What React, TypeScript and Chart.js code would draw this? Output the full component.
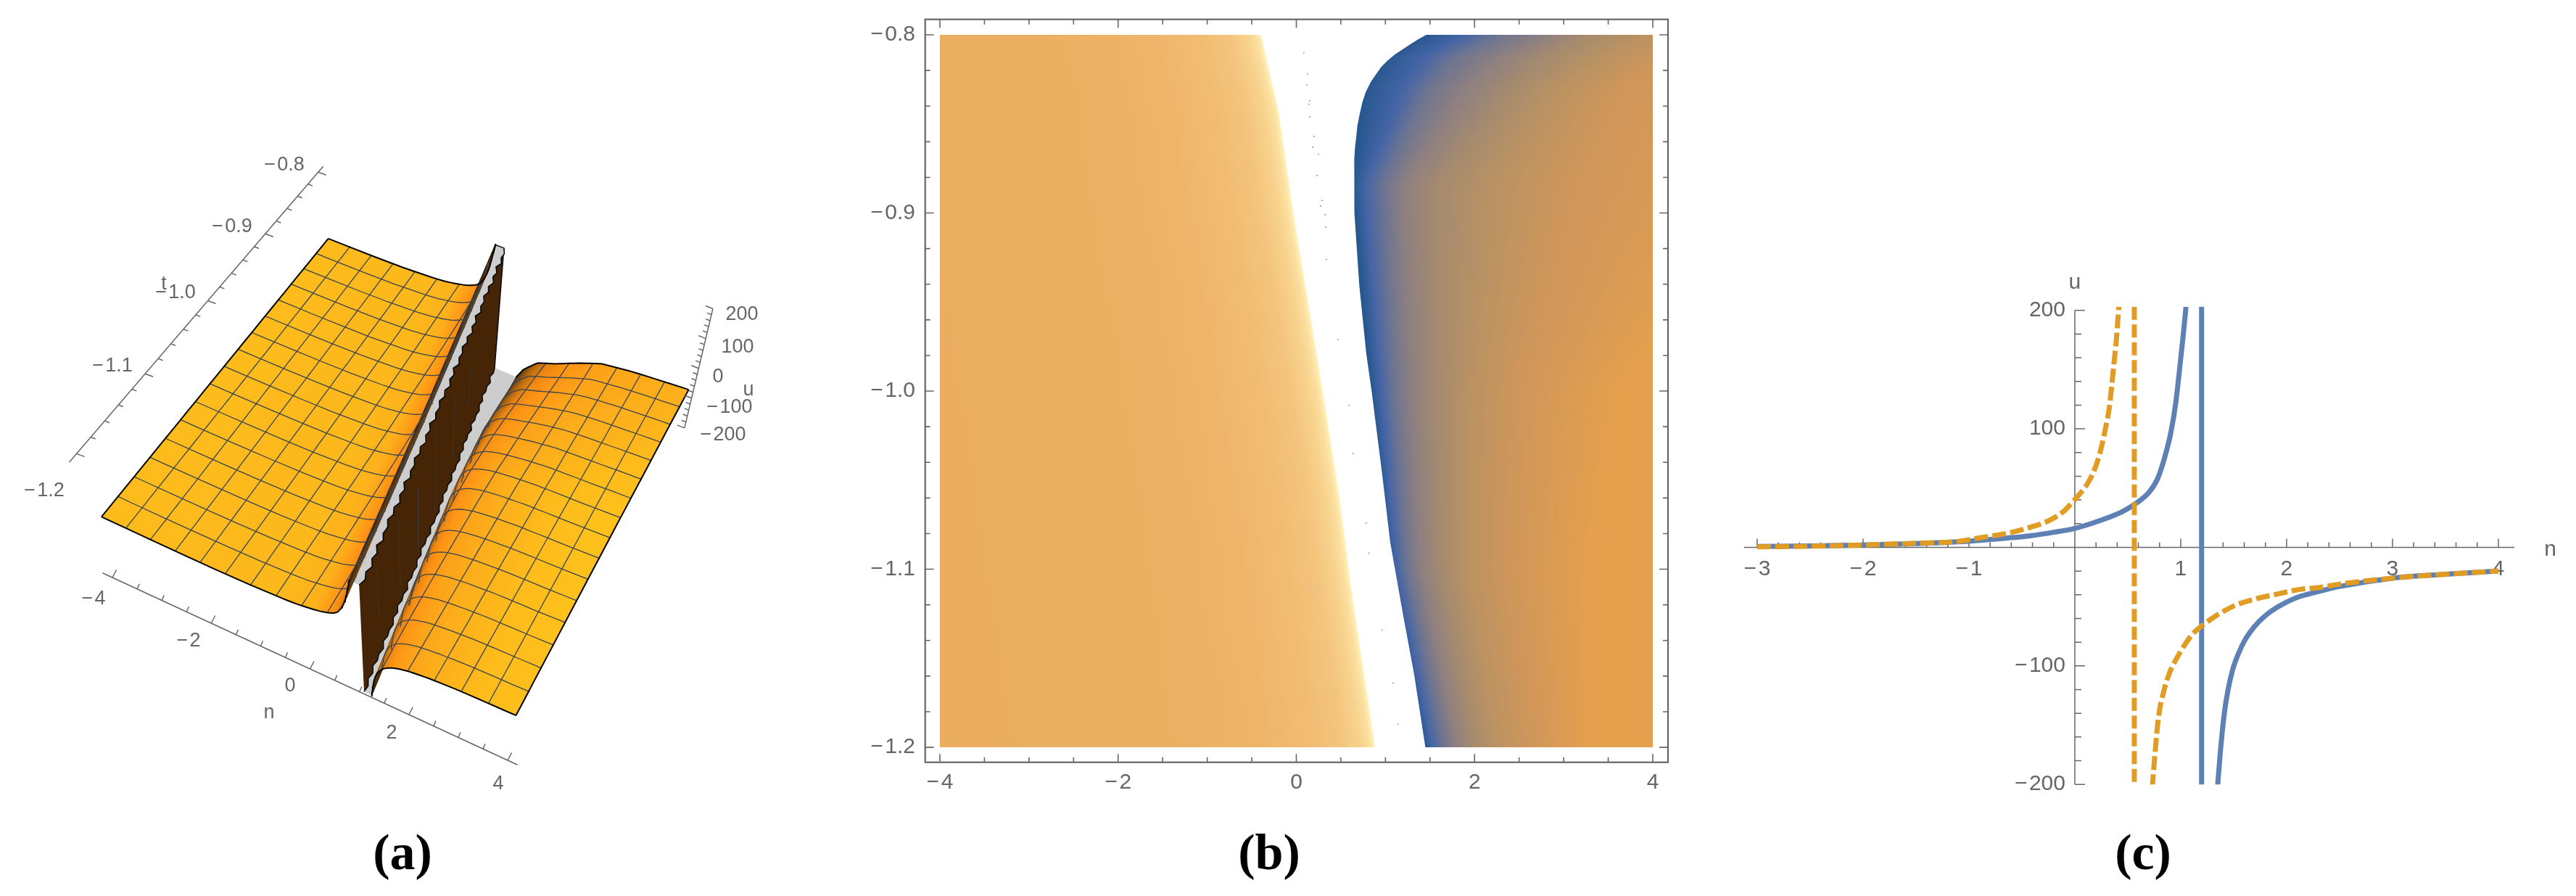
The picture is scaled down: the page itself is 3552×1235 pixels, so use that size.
import { useEffect, useRef } from "react";
import { Chart, registerables } from "chart.js";

Chart.register(...registerables);

const W = 3552;
const H = 1235;
const GREY = "#666666";
const FONT = "'Liberation Sans', Arial, sans-serif";
const M = "\u2212\u200A";

/* ---------- panel (c): two cuts of the solution ---------- */
const bluePole = 1.197;
const orangePole = 0.5616;
const blueLeftN = [-3, -2.5, -2, -1.5, -1.1, -0.874, -0.646, -0.418, -0.19, 0, 0.153, 0.313, 0.45, 0.564, 0.701, 0.781, 0.849, 0.906, 0.952, 0.986, 1.02, 1.05];
const blueLeftU = [0.8, 1.2, 2, 3.2, 4.7, 6.1, 7.8, 9.8, 12.9, 16, 20, 25, 30.2, 36.3, 46.5, 57.8, 76, 96.5, 121, 147.6, 176, 203];
const blueRightN = [1.347, 1.374, 1.409, 1.443, 1.489, 1.546, 1.614, 1.694, 1.797, 1.911, 2.094, 2.299, 2.5, 3, 3.5, 4];
const blueRightU = [-203, -173, -142, -122, -103.7, -89.4, -77, -67, -57.8, -50.6, -42.4, -37.3, -33, -26, -22.7, -19.9];
const orangeLeftN = [-3, -2.5, -2, -1.5, -1.1, -0.874, -0.646, -0.418, -0.235, -0.098, 0, 0.119, 0.187, 0.244, 0.29, 0.324, 0.347, 0.37, 0.393, 0.4155];
const orangeLeftU = [0.5, 1, 2, 3.5, 5.1, 8.4, 11.8, 17, 23, 31, 40.4, 53.7, 66, 82, 100.6, 117, 135, 155.7, 176, 203];
const orangeRightN = [0.731, 0.758, 0.792, 0.838, 0.895, 0.963, 1.032, 1.123, 1.203, 1.295, 1.409, 1.523, 1.705, 1.911, 2.139, 2.3, 2.5, 3, 3.5, 4];
const orangeRightU = [-203, -173, -142, -122, -105.7, -93.5, -83, -72, -66, -60, -53.7, -48.6, -43.5, -39.4, -35.3, -34, -31, -26, -22.7, -20];
const cXMajor = [-3, -2, -1, 1, 2, 3, 4];
const cXLabels = [M + "3", M + "2", M + "1", "1", "2", "3", "4"];
const cYMajor = [-200, -100, 100, 200];
const cYLabels = [M + "200", M + "100", "100", "200"];
const cXTicks = Array.from({ length: 36 }, (_, i) => -3 + i * 0.2);
const cYTicks = Array.from({ length: 21 }, (_, i) => -200 + i * 20);

/* ---------- panel (b): density plot ---------- */
const bLeftEdgeT = [-0.8, -0.8198, -0.8428, -0.8728, -0.908, -0.957, -1.012, -1.06, -1.117, -1.2];
const bLeftEdgeN = [-0.392, -0.305, -0.197, -0.11, -0.006, 0.158, 0.337, 0.486, 0.636, 0.886];
const bRightEdgeT = [-0.8, -0.8022, -0.8052, -0.8083, -0.811, -0.8144, -0.8178, -0.8225, -0.8266, -0.832, -0.8382, -0.8443, -0.851, -0.8578, -0.8633, -0.87, -0.8836, -0.9, -0.9108, -0.941, -0.979, -1, -1.047, -1.085, -1.127, -1.159, -1.2];
const bRightEdgeN = [1.458, 1.377, 1.282, 1.187, 1.106, 1.024, 0.956, 0.889, 0.834, 0.78, 0.739, 0.712, 0.685, 0.671, 0.658, 0.65, 0.65, 0.653, 0.666, 0.707, 0.785, 0.845, 0.964, 1.054, 1.203, 1.322, 1.448];
const bFadeD = [0, 0.02, 0.06, 0.15, 0.35, 0.7, 1.3, 2.5, 7];
const bFadeColors = ["#FFF6CC", "#FEECB4", "#FBE0A0", "#F8D48F", "#F4C57E", "#F1BC72", "#EEB469", "#EBAF61", "#EAAD5E"];
const bIsoColors = ["#285890", "#4565A6", "#6E7590", "#8E8080", "#A68B6E", "#BC9362", "#CF965A", "#E5A04D"];
const bIsoT = [-0.8, -0.812, -0.83, -0.884, -1, -1.1, -1.2];
const bIso0 = [1.47, 1.0, 0.78, 0.64, 0.845, 1.05, 1.44];
const bIso1 = [1.89, 1.45, 1.2, 0.77, 0.95, 1.12, 1.52];
const bIso2 = [2.3, 1.8, 1.48, 0.99, 1.1, 1.25, 1.66];
const bIso3 = [2.84, 2.3, 1.89, 1.2, 1.3, 1.4, 1.8];
const bIso4 = [3.25, 2.85, 2.43, 1.61, 1.6, 1.65, 2.0];
const bIso5 = [4.0, 3.5, 2.98, 2.3, 2.0, 1.95, 2.25];
const bIso6 = [5.0, 4.2, 3.6, 3.1, 2.5, 2.4, 2.65];
const bIso7 = [6.0, 6.0, 6.0, 5.5, 3.6, 3.3, 3.3];
const bDotsN = [0.084, 0.125, 0.117, 0.15, 0.142, 0.15, 0.199, 0.183, 0.248, 0.231, 0.289, 0.272, 0.322, 0.33, 0.337, 0.468, 0.594, 0.636, 0.785, 0.815, 0.964, 1.084, 1.143];
const bDotsT = [-0.81, -0.822, -0.828, -0.837, -0.839, -0.846, -0.857, -0.863, -0.867, -0.879, -0.893, -0.896, -0.901, -0.908, -0.926, -0.971, -1.008, -1.035, -1.074, -1.091, -1.134, -1.164, -1.187];
const bXMajor = [-4, -2, 0, 2, 4];
const bXLabels = [M + "4", M + "2", "0", "2", "4"];
const bYMajor = [-0.8, -0.9, -1, -1.1, -1.2];
const bYLabels = [M + "0.8", M + "0.9", M + "1.0", M + "1.1", M + "1.2"];
const bXTicks = Array.from({ length: 17 }, (_, i) => -4 + i * 0.5);
const bYTicks = Array.from({ length: 21 }, (_, i) => -1.2 + i * 0.02);

/* ---------- panel (a): surface over (n, t) ---------- */
const surfacePoleT = [-1.2, -1.0, -0.8];
const surfacePoleN = [1.12, 0.52, -0.12];
const rightShiftT = [-1.2, -1, -0.9, -0.85, -0.8];
const rightShiftN = [0, 0.03, 0.12, 0.23, 0.35];
const tailD = [3.2, 3.6, 4.2];
const tailU = [-16, -13.5, -11.5];
const farEndD = [0.15, 0.3, 0.6, 0.98, 1.5, 1.93, 2.6, 3.73];
const farEndU = [-200, -165, -125, -105, -70, -45, -30, -15];
const farWeightT = [-1.2, -0.98, -0.92, -0.86, -0.8];
const farWeight = [0, 0, 0.25, 0.6, 1];
const leftShadeD = [-5.4, -1.5, -0.9, -0.58, -0.44, -0.33, -0.25, -0.18, -0.147];
const leftShadeC = ["#FEBC1C", "#FDB81B", "#FDB01A", "#FE9516", "#F08812", "#BC6610", "#7F4809", "#5A330A", "#3A2206"];
const rightShadeD = [0.15, 0.2, 0.3, 0.42, 0.58, 0.9, 1.5, 2.3, 4.4];
const rightShadeC = ["#3A2206", "#5A3309", "#A8610F", "#E8840F", "#FF9414", "#FDA319", "#FDB01B", "#FEBB1A", "#FEC41C"];
const jagTop = [0.03, 0.085, 0.045, 0.105, 0.05, 0.09, 0.03, 0.1, 0.055, 0.08];
const jagBottom = [0.03, 0.0, 0.05, 0.01, 0.06, 0.02, 0.04, 0.0, 0.055, 0.015];
const streakT = [-1.16, -1.105, -1.055, -1.005, -0.95, -0.9];
const streakHi = [120, 90, 60, 130, 80, 40];
const streakLo = [-60, -170, -150, -170, -140, -90];
const aXMajor = [-4, -2, 0, 2, 4];
const aTMajor = [-0.8, -0.9, -1, -1.1, -1.2];
const aUMajor = [-200, -100, 0, 100, 200];
const aXTicks = Array.from({ length: 17 }, (_, i) => -4 + i * 0.5);
const aTTicks = Array.from({ length: 21 }, (_, i) => -1.2 + i * 0.02);
const aUTicks = Array.from({ length: 21 }, (_, i) => -200 + i * 20);
const aText = [
  "n", M + "4", M + "2", "0", "2", "4",
  "t", M + "0.8", M + "0.9", M + "1.0", M + "1.1", M + "1.2",
  "u", "200", "100", "0", M + "100", M + "200",
];

/* camera and text layout of the 3D view, in the view scale */
const CORNERS = [[140, 712.7], [712.3, 979.3], [951, 531], [452.7, 329.3]];
const NADIR = [575, 2140];
const aTextPos = [
  [371, 983], [129, 826], [260, 884], [400, 946], [540, 1011], [687, 1081],
  [226, 392], [392, 228], [320, 313], [242, 404], [155, 505], [61, 677],
  [1032, 538], [1023, 434], [1017, 479], [990, 520], [1006, 562], [997, 600],
];

function interp(xs: number[], ys: number[], x: number) {
  if (x <= xs[0]) return ys[0];
  const last = xs.length - 1;
  if (x >= xs[last]) return ys[last];
  let i = 1;
  while (xs[i] < x) i++;
  return ys[i - 1] + ((x - xs[i - 1]) / (xs[i] - xs[i - 1])) * (ys[i] - ys[i - 1]);
}

function hexLerp(a: string, b: string, f: number) {
  const p = (h: string, i: number) => parseInt(h.slice(i, i + 2), 16);
  const c = [1, 3, 5].map((i) => Math.round(p(a, i) + (p(b, i) - p(a, i)) * f));
  return `rgb(${c[0]},${c[1]},${c[2]})`;
}

function pts(xs: number[], ys: number[]) {
  return xs.map((x, i) => ({ x, y: ys[i] }));
}

const homography = (() => {
  const [[x0, y0], [x1, y1], [x2, y2], [x3, y3]] = CORNERS;
  const dx1 = x1 - x2, dx2 = x3 - x2, sx = x0 - x1 + x2 - x3;
  const dy1 = y1 - y2, dy2 = y3 - y2, sy = y0 - y1 + y2 - y3;
  const det = dx1 * dy2 - dx2 * dy1;
  const g = (sx * dy2 - dx2 * sy) / det;
  const h = (dx1 * sy - sx * dy1) / det;
  const a = x1 - x0 + g * x1, b = x3 - x0 + h * x3, d = y1 - y0 + g * y1, e = y3 - y0 + h * y3;
  return (u: number, v: number) => {
    const w = g * u + h * v + 1;
    return [(a * u + b * v + x0) / w, (d * u + e * v + y0) / w];
  };
})();

function project(n: number, t: number, u: number) {
  const [bx, by] = homography((n + 4) / 8, (t + 1.2) / 0.4);
  const k = ((0.0966 + (by - 417) * 0.000045) * u) / 400;
  return { x: bx + (bx - NADIR[0]) * k, y: by + (by - NADIR[1]) * k };
}

const leftD = blueLeftN.map((n) => n - bluePole);
const rightD = [...blueRightN.map((n) => n - bluePole), ...tailD];
const rightU = [...blueRightU, ...tailU];
const poleAt = (t: number) => interp(surfacePoleT, surfacePoleN, t);
const shiftAt = (t: number) => interp(rightShiftT, rightShiftN, t);
const farAt = (t: number) => interp(farWeightT, farWeight, t);
const leftSurf = (n: number, t: number) => interp(leftD, blueLeftU, n - poleAt(t));
const rightSurf = (n: number, t: number) => {
  const d = n - poleAt(t) - shiftAt(t);
  const w = farAt(t);
  return (1 - w) * interp(rightD, rightU, d) + w * interp(farEndD, farEndU, d);
};
const LEFT_END = -0.147;
const RIGHT_START = 0.15;

function shadeBands(ds: number[], cs: string[], sub: number) {
  const out: { d: number; color: string }[] = [];
  for (let i = 0; i < ds.length - 1; i++) {
    for (let j = 0; j < sub; j++) {
      const f = j / sub;
      out.push({ d: ds[i] + (ds[i + 1] - ds[i]) * f, color: hexLerp(cs[i], cs[i + 1], f) });
    }
  }
  out.push({ d: ds[ds.length - 1], color: hexLerp(cs[cs.length - 1], cs[cs.length - 1], 0) });
  return out;
}

function polygon(data: { x: number; y: number }[], fill: string, border = fill, width = 1) {
  return { type: "scatter", showLine: true, fill: "shape", data, backgroundColor: fill, borderColor: border, borderWidth: width, pointRadius: 0, tension: 0 };
}
function polyline(data: { x: number; y: number }[], color: string, width: number) {
  return { type: "scatter", showLine: true, fill: false, data, borderColor: color, backgroundColor: color, borderWidth: width, pointRadius: 0, tension: 0 };
}

function surfaceDatasets() {
  const steps = 32;
  const ts = Array.from({ length: steps + 1 }, (_, i) => -1.2 + (0.4 * i) / steps);
  const fine = Array.from({ length: 129 }, (_, i) => -1.2 + (0.4 * i) / 128);
  const leftBands = shadeBands(leftShadeD, leftShadeC, 6);
  const rightBands = shadeBands(rightShadeD, rightShadeC, 6);
  const leftN = (d: number, t: number) => Math.max(-4, poleAt(t) + d);
  const rawRight = (d: number, t: number) => poleAt(t) + shiftAt(t) + RIGHT_START + (d - RIGHT_START) * (1 + 1.8 * farAt(t));
  const rightN = (d: number, t: number) => Math.min(4, rawRight(d, t));
  const lP = (d: number, t: number) => { const n = leftN(d, t); return project(n, t, leftSurf(n, t)); };
  const rP = (d: number, t: number) => { const n = rightN(d, t); return project(n, t, rightSurf(n, t)); };

  const leftStrips: any[] = [];
  for (let i = 0; i < leftBands.length - 1; i++) {
    const a = leftBands[i], b = leftBands[i + 1];
    leftStrips.push(polygon([...ts.map((t) => lP(a.d, t)), ...[...ts].reverse().map((t) => lP(b.d, t))], a.color));
  }
  const rightStrips: any[] = [];
  for (let i = 0; i < rightBands.length - 1; i++) {
    const a = rightBands[i], b = rightBands[i + 1];
    rightStrips.push(polygon([...ts.map((t) => rP(a.d, t)), ...[...ts].reverse().map((t) => rP(b.d, t))], b.color));
  }

  const gap = { x: NaN, y: NaN };
  const leftLine = (t: number) => {
    const pole = poleAt(t);
    const ns = [-4, ...leftBands.map((b) => pole + b.d).filter((n) => n > -4)];
    return ns.map((n) => project(n, t, leftSurf(n, t)));
  };
  const rightLine = (t: number) => {
    const ns = [...rightBands.map((b) => rawRight(b.d, t)).filter((n) => n < 4), 4];
    return ns.map((n) => project(n, t, rightSurf(n, t)));
  };
  const meshLeft: any[] = [];
  const meshRight: any[] = [];
  for (let k = 1; k < 16; k++) {
    const t = -1.2 + (k * 0.4) / 16;
    meshLeft.push(...leftLine(t), gap);
    meshRight.push(...rightLine(t), gap);
    const n = -4 + k * 0.5;
    const l = fine.filter((tt) => n - poleAt(tt) <= LEFT_END);
    const r = fine.filter((tt) => n - poleAt(tt) - shiftAt(tt) >= RIGHT_START);
    meshLeft.push(...l.map((tt) => project(n, tt, leftSurf(n, tt))), gap);
    meshRight.push(...r.map((tt) => project(n, tt, rightSurf(n, tt))), gap);
  }
  const edges = [
    ...leftLine(-1.2), gap, ...leftLine(-0.8), gap,
    ...rightLine(-1.2), gap, ...rightLine(-0.8), gap,
    ...ts.map((t) => project(-4, t, leftSurf(-4, t))), gap,
    ...ts.map((t) => project(4, t, rightSurf(4, t))),
  ];

  const jagSteps = 60;
  const jts = Array.from({ length: jagSteps + 1 }, (_, i) => -1.2 + (0.4 * i) / jagSteps);
  const topEdge = jts.map((t, i) => project(poleAt(t) + jagTop[i % jagTop.length], t, 200));
  const botEdge = jts.map((t, i) => project(poleAt(t) + 0.03 - jagBottom[i % jagBottom.length], t, -200));
  const capLeft = jts.map((t) => project(poleAt(t) + LEFT_END, t, 200));
  const capRight = jts.map((t) => project(poleAt(t) + shiftAt(t) + RIGHT_START, t, -200));
  const streaks: any[] = [];
  streakT.forEach((t, i) => {
    const n = poleAt(t) + 0.02;
    streaks.push(project(n, t, streakHi[i]), project(n, t, streakLo[i]), gap);
  });

  const ordered = [
    polygon([...botEdge, ...[...capRight].reverse()], "#CDCDCD", "#CDCDCD", 1),
    ...rightStrips,
    polyline(meshRight, "#3A4450", 1.3),
    polygon([...topEdge, ...[...botEdge].reverse()], "#452505", "#0A0A0A", 1.5),
    polyline(streaks, "rgba(54,64,74,0.6)", 1),
    polygon([...capLeft, ...[...topEdge].reverse()], "#CDCDCD", "#0A0A0A", 1.5),
    ...leftStrips,
    polyline(meshLeft, "#3A4450", 1.3),
    polyline(edges, "#000000", 2),
  ];

  const nAxisA = [155, 796], nAxisB = [700, 1048];
  const nPos = (n: number) => {
    const f = (n + 4) / 8;
    return { x: nAxisA[0] + (nAxisB[0] - nAxisA[0]) * f, y: nAxisA[1] + (nAxisB[1] - nAxisA[1]) * f };
  };
  const tPos = (t: number) => project(-4.13, t, 212);
  const uPos = (u: number) => project(4, -0.775, u);
  const axis: any[] = [
    nPos(-4.2), nPos(4.2), gap,
    tPos(-1.21), tPos(-0.79), gap,
    uPos(-200), uPos(200), gap,
  ];
  const near = (list: number[], v: number) => list.some((m) => Math.abs(m - v) < 1e-6);
  aXTicks.forEach((n) => {
    const p = nPos(n), big = near(aXMajor, n);
    axis.push(p, { x: p.x + (big ? 5.5 : 3.2), y: p.y - (big ? 10.5 : 7) }, gap);
  });
  aTTicks.forEach((t) => {
    const p = tPos(t), big = near(aTMajor, t);
    axis.push(p, { x: p.x + (big ? 11 : 6.5), y: p.y + (big ? 4 : 2.4) }, gap);
  });
  aUTicks.forEach((u) => {
    const p = uPos(u), big = near(aUMajor, u);
    axis.push(p, { x: p.x - (big ? 10 : 6), y: p.y - (big ? 4 : 2.4) }, gap);
  });
  ordered.push(polyline(axis, GREY, 1.5));
  // Chart.js paints the first dataset last.
  return ordered.reverse();
}

function rowPattern(chart: any, stopsAt: (t: number) => [number, string][]) {
  const off = document.createElement("canvas");
  off.width = chart.width;
  off.height = chart.height;
  const ctx = off.getContext("2d") as CanvasRenderingContext2D;
  const { x, y } = chart.scales;
  const area = chart.chartArea;
  const gx0 = x.getPixelForValue(-13);
  const gx1 = x.getPixelForValue(7);
  for (let py = Math.floor(area.top); py < Math.ceil(area.bottom); py++) {
    const t = y.getValueForPixel(py + 0.5);
    const g = ctx.createLinearGradient(gx0, 0, gx1, 0);
    stopsAt(t).forEach(([n, c]) => {
      g.addColorStop(Math.min(1, Math.max(0, (x.getPixelForValue(n) - gx0) / (gx1 - gx0))), c);
    });
    ctx.fillStyle = g;
    ctx.fillRect(gx0, py, gx1 - gx0, 1);
  }
  return chart.ctx.createPattern(off, "no-repeat");
}

function memoPattern(build: (chart: any) => any) {
  let made: any = null;
  return (c: any) => {
    if (!made && c.chart.chartArea) made = build(c.chart);
    return made || "#EAAD5E";
  };
}

function linearAxis(min: number, max: number, position: any, ticks: number[], majors: number[], labels: string[], padding: number, extra: any = {}) {
  return {
    type: "linear", min, max, position,
    grid: { display: false, drawTicks: false },
    border: { display: false },
    afterBuildTicks: (s: any) => { s.ticks = ticks.map((value) => ({ value })); },
    ticks: {
      autoSkip: false, maxRotation: 0, minRotation: 0, padding, color: GREY,
      font: { family: FONT, size: 30 },
      callback: (v: number) => {
        const i = majors.findIndex((m) => Math.abs(m - v) < 1e-6);
        return i >= 0 ? labels[i] : "";
      },
    },
    ...extra,
  };
}

function buildA(canvas: HTMLCanvasElement) {
  const textPlugin = {
    id: "viewText",
    afterDatasetsDraw(chart: any) {
      const { ctx, scales } = chart;
      ctx.save();
      ctx.fillStyle = GREY;
      ctx.font = `27px ${FONT}`;
      ctx.textAlign = "center";
      ctx.textBaseline = "middle";
      aText.forEach((s, i) => {
        ctx.fillText(s, scales.x.getPixelForValue(aTextPos[i][0]), scales.y.getPixelForValue(aTextPos[i][1]));
      });
      ctx.restore();
    },
  };
  return new Chart(canvas, {
    type: "scatter",
    data: { datasets: surfaceDatasets() as any },
    plugins: [textPlugin],
    options: {
      responsive: false, animation: false, devicePixelRatio: 1, events: [],
      layout: { padding: 0 },
      plugins: { legend: { display: false }, tooltip: { enabled: false } },
      scales: {
        x: { type: "linear", min: 0, max: W, display: false },
        y: { type: "linear", min: 0, max: H, reverse: true, display: false },
      },
    } as any,
  });
}

function buildB(canvas: HTMLCanvasElement) {
  const frame = {
    id: "frameTicks",
    afterDatasetsDraw(chart: any) {
      const { ctx, chartArea: a, scales } = chart;
      ctx.save();
      ctx.strokeStyle = GREY;
      ctx.lineWidth = 1.6;
      ctx.beginPath();
      scales.x.ticks.forEach((tk: any) => {
        const p = scales.x.getPixelForValue(tk.value), len = tk.label ? 11.5 : 7;
        ctx.moveTo(p, a.bottom); ctx.lineTo(p, a.bottom - len);
        ctx.moveTo(p, a.top); ctx.lineTo(p, a.top + len);
      });
      scales.y.ticks.forEach((tk: any) => {
        const p = scales.y.getPixelForValue(tk.value), len = tk.label ? 12 : 7;
        ctx.moveTo(a.left, p); ctx.lineTo(a.left + len, p);
        ctx.moveTo(a.right, p); ctx.lineTo(a.right - len, p);
      });
      ctx.stroke();
      ctx.lineWidth = 2.2;
      ctx.strokeRect(a.left, a.top, a.right - a.left, a.bottom - a.top);
      ctx.restore();
    },
  };
  const lT = [...bLeftEdgeT].reverse();
  const lN = [...bLeftEdgeN].reverse();
  const leftFill = memoPattern((chart) =>
    rowPattern(chart, (t) => {
      const edge = interp(lT, lN, t);
      return bFadeD.map((d, i) => [edge - d, bFadeColors[i]] as [number, string]).reverse();
    })
  );
  const isoRows = [bIso0, bIso1, bIso2, bIso3, bIso4, bIso5, bIso6, bIso7];
  const rT = [...bIsoT].reverse();
  const rightFill = memoPattern((chart) =>
    rowPattern(chart, (t) =>
      isoRows.map((row, i) => [interp(rT, [...row].reverse(), t), bIsoColors[i]] as [number, string])
    )
  );
  const leftShape = [{ x: -4, y: -0.8 }, ...pts(bLeftEdgeN, bLeftEdgeT), { x: -4, y: -1.2 }];
  const rightShape = [{ x: 4, y: -0.8 }, ...pts(bRightEdgeN, bRightEdgeT), { x: 4, y: -1.2 }];
  return new Chart(canvas, {
    type: "scatter",
    data: {
      datasets: [
        { data: pts(bDotsN, bDotsT), pointRadius: 0.9, pointBackgroundColor: "#6F8FB0", pointBorderWidth: 0, showLine: false },
        { showLine: true, fill: "shape", data: leftShape, backgroundColor: leftFill, borderWidth: 0, pointRadius: 0, tension: 0 },
        { showLine: true, fill: "shape", data: rightShape, backgroundColor: rightFill, borderWidth: 0, pointRadius: 0, tension: 0 },
      ] as any,
    },
    plugins: [frame],
    options: {
      responsive: false, animation: false, devicePixelRatio: 1, events: [],
      layout: { padding: { left: 1275.7, top: 26.7, right: W - 2300, bottom: H - 1050.7 } },
      plugins: { legend: { display: false }, tooltip: { enabled: false } },
      scales: {
        x: linearAxis(-4.165, 4.171, { y: -1.2084 }, bXTicks, bXMajor, bXLabels, 10),
        y: linearAxis(-1.2084, -0.7913, { x: -4.277 }, bYTicks, bYMajor, bYLabels, 0),
      },
    } as any,
  });
}

function buildC(canvas: HTMLCanvasElement) {
  const axes = {
    id: "crossAxes",
    beforeDatasetsDraw(chart: any) {
      const { ctx, chartArea: a, scales } = chart;
      const y0 = scales.y.getPixelForValue(0);
      const x0 = scales.x.getPixelForValue(0);
      ctx.save();
      ctx.strokeStyle = GREY;
      ctx.lineWidth = 1.5;
      ctx.beginPath();
      ctx.moveTo(a.left, y0); ctx.lineTo(a.right, y0);
      ctx.moveTo(x0, a.top); ctx.lineTo(x0, a.bottom);
      scales.x.ticks.forEach((tk: any) => {
        const p = scales.x.getPixelForValue(tk.value);
        ctx.moveTo(p, y0); ctx.lineTo(p, y0 - (tk.label ? 12 : 7));
      });
      scales.y.ticks.forEach((tk: any) => {
        const p = scales.y.getPixelForValue(tk.value);
        ctx.moveTo(x0, p); ctx.lineTo(x0 + (tk.label ? 14 : 9), p);
      });
      ctx.stroke();
      ctx.fillStyle = GREY;
      ctx.font = `30px ${FONT}`;
      ctx.textAlign = "center";
      ctx.textBaseline = "middle";
      ctx.fillText("u", x0, scales.y.getPixelForValue(223));
      ctx.fillText("n", scales.x.getPixelForValue(4.49), y0 + 3);
      ctx.restore();
    },
  };
  const clip = { left: 0, right: 0, top: 5, bottom: 0 };
  const blue = "#5E81B5";
  const orange = "#E19C24";
  const line = (data: any, color: string, dash?: number[], smooth = true) => ({
    showLine: true, data, borderColor: color, borderWidth: 7, pointRadius: 0, clip,
    borderDash: dash, cubicInterpolationMode: smooth ? "monotone" : "default", tension: 0, borderCapStyle: "butt",
  });
  const vOrange = [{ x: orangePole, y: 203 }, { x: orangePole, y: -203 }];
  const vBlue = [{ x: bluePole, y: 203 }, { x: bluePole, y: -203 }];
  return new Chart(canvas, {
    type: "scatter",
    data: {
      datasets: [
        line(pts(orangeRightN, orangeRightU), orange, [19, 6]),
        line(pts(orangeLeftN, orangeLeftU), orange, [19, 6]),
        line(vOrange, orange, [18, 6.5], false),
        line(pts(blueRightN, blueRightU), blue),
        line(pts(blueLeftN, blueLeftU), blue),
        line(vBlue, blue, undefined, false),
      ] as any,
    },
    plugins: [axes],
    options: {
      responsive: false, animation: false, devicePixelRatio: 1, events: [],
      layout: { padding: { left: 2405, top: 427.7, right: W - 3467, bottom: H - 1081.2 } },
      plugins: { legend: { display: false }, tooltip: { enabled: false } },
      scales: {
        x: linearAxis(-3.123, 4.151, { y: 0 }, cXTicks, cXMajor, cXLabels, 12),
        y: linearAxis(-200, 200, { x: -0.089 }, cYTicks, cYMajor, cYLabels, 0),
      },
    } as any,
  });
}

const captionStyle = (x: number): any => ({
  position: "absolute", left: x, top: 1175, transform: "translate(-50%,-50%)",
  fontFamily: "'Liberation Serif', serif", fontSize: 70, fontWeight: 700, lineHeight: 1, color: "#000", whiteSpace: "nowrap",
});

function Caption({ x, letter }: { x: number; letter: string }) {
  return <div style={captionStyle(x)}>({letter})</div>;
}

export default function App() {
  const a = useRef<HTMLCanvasElement>(null);
  const b = useRef<HTMLCanvasElement>(null);
  const c = useRef<HTMLCanvasElement>(null);
  useEffect(() => {
    const charts = [buildA(a.current!), buildB(b.current!), buildC(c.current!)];
    return () => charts.forEach((ch) => ch.destroy());
  }, []);
  const style: any = { position: "absolute", left: 0, top: 0, display: "block" };
  return (
    <div style={{ position: "absolute", left: 0, top: 0, width: W, height: H, background: "#fff", overflow: "hidden" }}>
      <canvas ref={a} width={W} height={H} style={style} />
      <canvas ref={b} width={W} height={H} style={style} />
      <canvas ref={c} width={W} height={H} style={style} />
      <Caption x={555} letter="a" />
      <Caption x={1750} letter="b" />
      <Caption x={2955} letter="c" />
    </div>
  );
}
